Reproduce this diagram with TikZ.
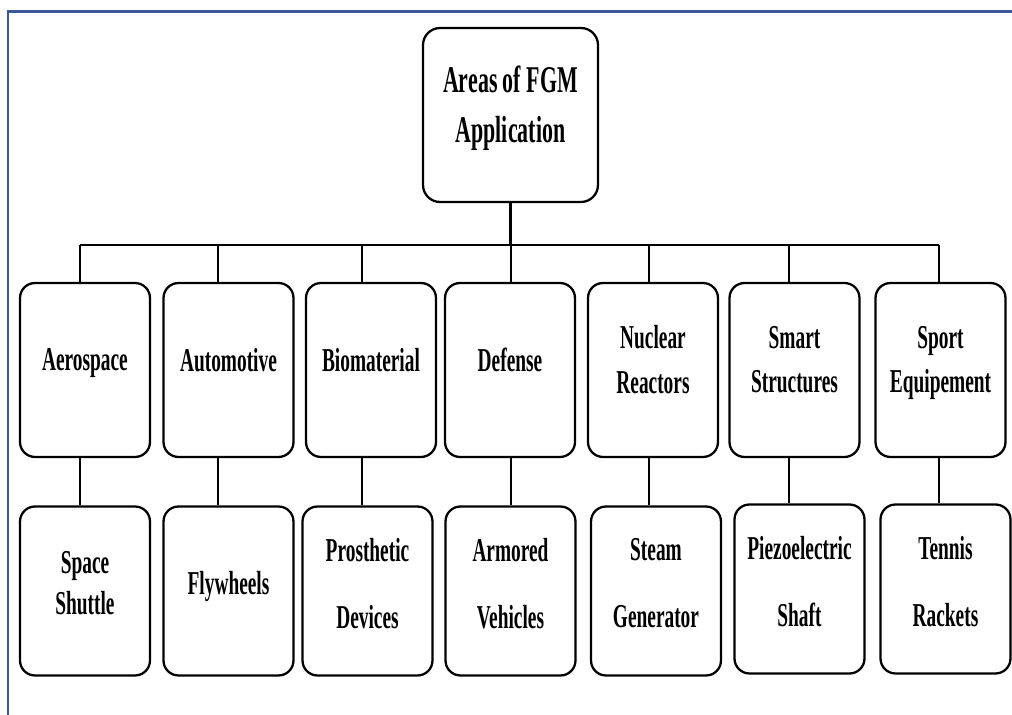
\documentclass[tikz,border=0pt]{standalone}
\usepackage{fontspec}
\setmainfont{Liberation Serif}[FakeStretch=0.58]

\definecolor{frameblue}{RGB}{59,89,152}
\newcommand{\lowstrut}[1][12pt]{\rule[-#1]{0pt}{0pt}}

\tikzset{
  rootbox/.style={draw, line width=1.3pt, rounded corners=0.34cm, inner sep=0pt,
    minimum width=3.5cm, minimum height=3.48cm, align=center,
    font=\fontsize{21.5}{28.5}\selectfont\bfseries},
  areabox/.style={draw, line width=1.3pt, rounded corners=0.3cm, inner sep=0pt,
    minimum width=2.6cm, minimum height=3.48cm, align=center,
    font=\fontsize{19}{25.6}\selectfont\bfseries},
  appbox/.style={areabox, minimum height=3.38cm,
    font=\fontsize{19}{38}\selectfont\bfseries},
  link/.style={line width=1.2pt},
}

\begin{document}
\begin{tikzpicture}[x=0.02cm,y=-0.02cm]
\useasboundingbox (0,0) rectangle (1012,715);
\draw[frameblue, line width=1.7pt] (8,715) -- (8,11.5) -- (1012,11.5);

\node[rootbox] at (510.5,115) (fgm) {Areas of FGM\\Application\lowstrut};

\node[areabox] at  (85,370) (aero)  {Aerospace\lowstrut};
\node[areabox] at (228.5,370) (auto) {Automotive\lowstrut};
\node[areabox] at (371,370) (bio)   {Biomaterial\lowstrut};
\node[areabox] at (510,370) (def)   {Defense\lowstrut};
\node[areabox] at (653,370) (nuc)   {Nuclear\\Reactors\lowstrut};
\node[areabox] at (794.5,370) (smart) {Smart\\Structures\lowstrut};
\node[areabox] at (940.5,370) (sport) {Sport\\Equipement\lowstrut};

\node[appbox, font=\fontsize{19}{23.3}\selectfont\bfseries] at (85,591) (shuttle) {Space\\Shuttle\lowstrut[9pt]};
\node[appbox] at (228.5,591) (fly)    {Flywheels\lowstrut[9pt]};
\node[appbox] at (367.5,591) (prosth) {Prosthetic\\Devices\lowstrut[9pt]};
\node[appbox] at (510.5,591) (armor)  {Armored\\Vehicles\lowstrut[9pt]};
\node[appbox] at (656,591) (steam)    {Steam\\Generator\lowstrut[9pt]};
\node[appbox] at (799.5,589) (piezo)  {Piezoelectric\\Shaft\lowstrut[9pt]};
\node[appbox] at (945.5,589) (tennis) {Tennis\\Rackets\lowstrut[9pt]};

\coordinate (j1) at (80,245);
\coordinate (j2) at (218,245);
\coordinate (j3) at (362,245);
\coordinate (j4) at (511,245);
\coordinate (j5) at (649,245);
\coordinate (j6) at (789,245);
\coordinate (j7) at (939,245);

\draw[link] (fgm.south) -- (fgm.south |- j4);
\draw[link] (j1) -- (j7);

\draw[link] (j1) -- (aero.north -| j1);
\draw[link] (j2) -- (auto.north -| j2);
\draw[link] (j3) -- (bio.north -| j3);
\draw[link] (j4) -- (def.north -| j4);
\draw[link] (j5) -- (nuc.north -| j5);
\draw[link] (j6) -- (smart.north -| j6);
\draw[link] (j7) -- (sport.north -| j7);

\draw[link] (aero.south -| j1)  -- (shuttle.north -| j1);
\draw[link] (auto.south -| j2)  -- (fly.north -| j2);
\draw[link] (bio.south -| j3)   -- (prosth.north -| j3);
\draw[link] (def.south -| j4)   -- (armor.north -| j4);
\draw[link] (nuc.south -| j5)   -- (steam.north -| j5);
\draw[link] (smart.south -| j6) -- (piezo.north -| j6);
\draw[link] (sport.south -| j7) -- (tennis.north -| j7);

\end{tikzpicture}
\end{document}
